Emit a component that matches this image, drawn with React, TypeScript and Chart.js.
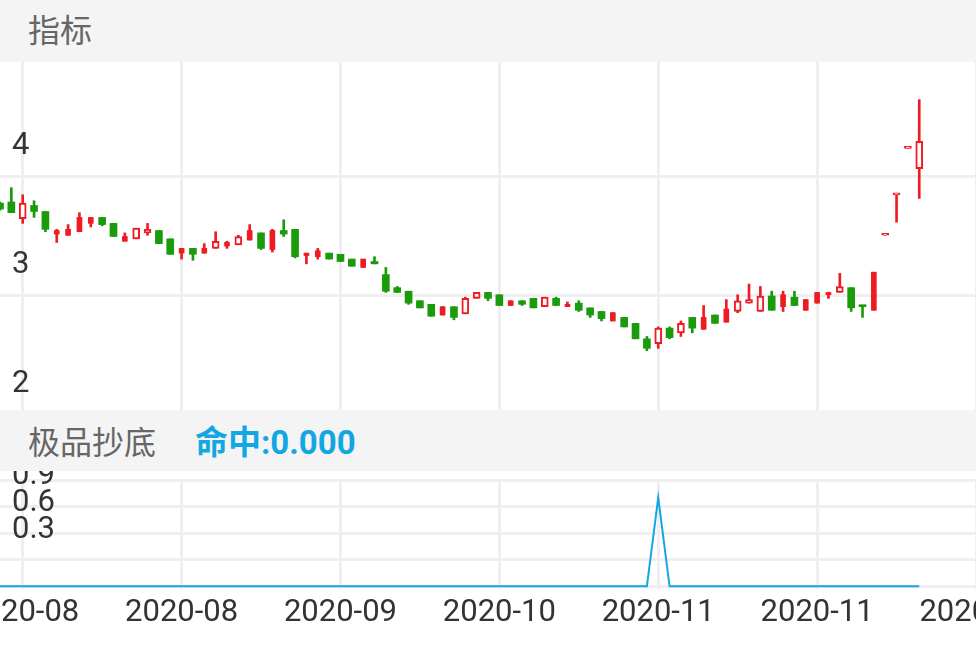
import React, { useEffect, useRef } from 'react';
import { Chart, registerables } from 'chart.js';

Chart.register(...registerables);

// ---- data ----
const opens = [3.78, 3.79, 3.65, 3.76, 3.71, 3.52, 3.51, 3.54, 3.61, 3.66, 3.61, 3.46, 3.48, 3.53, 3.55, 3.48, 3.36, 3.40, 3.36, 3.40, 3.42, 3.43, 3.47, 3.53, 3.39, 3.55, 3.56, 3.34, 3.33, 3.36, 3.35, 3.31, 3.24, 3.29, 3.18, 3.07, 3.04, 2.96, 2.93, 2.84, 2.91, 2.85, 2.98, 3.03, 3.01, 2.92, 2.96, 2.98, 2.91, 2.98, 2.91, 2.94, 2.90, 2.87, 2.79, 2.82, 2.77, 2.64, 2.60, 2.73, 2.69, 2.82, 2.72, 2.84, 2.78, 2.87, 2.94, 2.87, 3.00, 2.91, 2.99, 2.88, 2.94, 3.01, 3.03, 3.07, 2.92, 2.88, 3.51, 3.85, 4.24, 4.07];
const highs = [3.79, 3.91, 3.85, 3.80, 3.71, 3.56, 3.60, 3.70, 3.66, 3.66, 3.61, 3.53, 3.57, 3.61, 3.55, 3.48, 3.40, 3.40, 3.44, 3.54, 3.46, 3.51, 3.60, 3.53, 3.56, 3.64, 3.56, 3.36, 3.40, 3.36, 3.35, 3.31, 3.31, 3.33, 3.24, 3.08, 3.04, 2.96, 2.93, 2.91, 2.91, 2.99, 3.03, 3.03, 3.01, 2.96, 2.96, 2.98, 2.99, 2.99, 2.95, 2.96, 2.90, 2.87, 2.86, 2.82, 2.77, 2.66, 2.74, 2.74, 2.79, 2.82, 2.92, 2.84, 2.97, 3.01, 3.10, 3.08, 3.04, 3.04, 3.04, 2.97, 3.03, 3.03, 3.19, 3.07, 2.92, 3.20, 3.51, 3.86, 4.24, 4.65];
const lows = [3.72, 3.70, 3.61, 3.66, 3.54, 3.45, 3.51, 3.54, 3.58, 3.59, 3.50, 3.46, 3.48, 3.51, 3.44, 3.35, 3.31, 3.30, 3.36, 3.40, 3.40, 3.43, 3.47, 3.39, 3.37, 3.50, 3.32, 3.27, 3.31, 3.31, 3.29, 3.25, 3.24, 3.27, 3.03, 3.03, 2.93, 2.90, 2.83, 2.84, 2.80, 2.85, 2.98, 2.96, 2.92, 2.92, 2.92, 2.90, 2.91, 2.92, 2.91, 2.87, 2.82, 2.79, 2.79, 2.74, 2.64, 2.54, 2.56, 2.64, 2.66, 2.69, 2.72, 2.77, 2.78, 2.86, 2.94, 2.87, 2.88, 2.87, 2.92, 2.88, 2.94, 2.98, 3.03, 2.87, 2.82, 2.88, 3.51, 3.62, 4.24, 3.82];
const closes = [3.73, 3.70, 3.78, 3.71, 3.56, 3.55, 3.56, 3.66, 3.66, 3.60, 3.50, 3.50, 3.57, 3.56, 3.44, 3.35, 3.40, 3.35, 3.40, 3.46, 3.45, 3.50, 3.55, 3.40, 3.55, 3.52, 3.33, 3.36, 3.38, 3.31, 3.29, 3.25, 3.31, 3.27, 3.04, 3.03, 2.94, 2.90, 2.83, 2.91, 2.82, 2.98, 3.03, 2.98, 2.92, 2.96, 2.93, 2.90, 2.99, 2.92, 2.93, 2.88, 2.84, 2.81, 2.86, 2.74, 2.64, 2.56, 2.73, 2.65, 2.77, 2.73, 2.82, 2.77, 2.89, 2.96, 2.97, 3.00, 2.88, 3.01, 2.92, 2.97, 3.03, 3.03, 3.08, 2.90, 2.91, 3.20, 3.51, 3.86, 4.24, 4.30];
// rising candles that the reference shows as solid (filled) bodies
const filledUp = [5, 6, 7, 8, 11, 16, 18, 20, 22, 24, 27, 28, 32, 39, 45, 50, 54, 62, 64, 69, 71, 72, 73, 77];
const hits = [0, 0, 0, 0, 0, 0, 0, 0, 0, 0, 0, 0, 0, 0, 0, 0, 0, 0, 0, 0, 0, 0, 0, 0, 0, 0, 0, 0, 0, 0, 0, 0, 0, 0, 0, 0, 0, 0, 0, 0, 0, 0, 0, 0, 0, 0, 0, 0, 0, 0, 0, 0, 0, 0, 0, 0, 0, 0, 1, 0, 0, 0, 0, 0, 0, 0, 0, 0, 0, 0, 0, 0, 0, 0, 0, 0, 0, 0, 0, 0, 0, 0];
const xTickValues = [2, 16, 30, 44, 58, 72, 86];
const xTickLabels = ['2020-08', '2020-08', '2020-09', '2020-10', '2020-11', '2020-11', '2020-12'];
const priceTicks = [2, 3, 4];
const hitTicks = [0, 0.3, 0.6, 0.9, 1.2];
const hitLabels = ['', '0.3', '0.6', '0.9', '1.2'];

const RED = '#ef1b22';
const GREEN = '#1a9b0c';
const GRID = '#efeff1';
const BLUE = '#12a7e2';
const TICK_COLOR = '#333333';
const TICK_FONT = { family: 'Roboto', size: 31 };

function zeroPad(s: any) {
  s.paddingTop = 0;
  s.paddingBottom = 0;
  s.paddingLeft = 0;
  s.paddingRight = 0;
}

function xScale(showTicks: boolean) {
  return {
    type: 'linear',
    min: 0,
    max: 86,
    offset: false,
    afterBuildTicks: (s: any) => {
      s.ticks = xTickValues.map((v) => ({ value: v }));
    },
    afterFit: (s: any) => {
      zeroPad(s);
      if (showTicks) s.height = 60;
    },
    grid: { color: GRID, lineWidth: 3, drawTicks: false, offset: false },
    border: { display: false },
    ticks: {
      display: showTicks,
      autoSkip: false,
      maxRotation: 0,
      minRotation: 0,
      padding: 6,
      color: TICK_COLOR,
      font: TICK_FONT,
      callback: (_v: any, i: number) => xTickLabels[i],
    },
  };
}

export default function App() {
  const mainRef = useRef<HTMLCanvasElement>(null);
  const subRef = useRef<HTMLCanvasElement>(null);

  useEffect(() => {
    const idx = closes.map((_, i) => i);
    const rising = idx.map((i) => closes[i] >= opens[i]);
    const colorOf = (i: number) => (rising[i] ? RED : GREEN);
    const hollowIdx = idx.filter((i) => rising[i] && !filledUp.includes(i));
    const solidIdx = idx.filter((i) => rising[i] && filledUp.includes(i));
    const downIdx = idx.filter((i) => !rising[i]);
    const body = (list: number[]) => list.map((i) => ({ x: i, y: [opens[i], closes[i]] }));

    const main = new Chart(mainRef.current as HTMLCanvasElement, {
      type: 'bar',
      data: {
        datasets: [
          {
            label: 'up-hollow',
            data: body(hollowIdx) as any,
            backgroundColor: '#ffffff',
            borderColor: RED,
            borderWidth: 2,
            borderSkipped: false,
            barThickness: 7,
            minBarLength: 2,
            grouped: false,
          } as any,
          {
            label: 'up-solid',
            data: body(solidIdx) as any,
            backgroundColor: RED,
            borderWidth: 0,
            barThickness: 5,
            minBarLength: 2,
            grouped: false,
          } as any,
          {
            label: 'down',
            data: body(downIdx) as any,
            backgroundColor: GREEN,
            borderWidth: 0,
            barThickness: 7,
            minBarLength: 2,
            grouped: false,
          } as any,
          {
            label: 'wick',
            data: idx.map((i) => ({ x: i, y: [lows[i], highs[i]] })) as any,
            backgroundColor: idx.map(colorOf),
            borderWidth: 0,
            barThickness: 2,
            grouped: false,
          } as any,
        ],
      },
      options: {
        responsive: false,
        maintainAspectRatio: false,
        animation: false,
        events: [],
        layout: { padding: 0 },
        plugins: { legend: { display: false }, tooltip: { enabled: false } },
        scales: {
          x: xScale(false) as any,
          y: {
            type: 'linear',
            position: 'left',
            min: 2,
            max: 4.966,
            afterBuildTicks: (s: any) => {
              s.ticks = priceTicks.map((v) => ({ value: v }));
            },
            afterFit: (s: any) => {
              s.width = 0;
              zeroPad(s);
            },
            grid: { color: GRID, lineWidth: 3, drawTicks: false },
            border: { display: false },
            ticks: {
              mirror: true,
              padding: 12,
              labelOffset: -31,
              autoSkip: false,
              color: TICK_COLOR,
              font: TICK_FONT,
              callback: (v: any) => String(v),
            },
          } as any,
        },
      },
    });

    const sub = new Chart(subRef.current as HTMLCanvasElement, {
      type: 'line',
      data: {
        datasets: [
          {
            label: 'hit',
            data: idx.map((i) => ({ x: i, y: hits[i] })) as any,
            borderColor: BLUE,
            borderWidth: 2,
            pointRadius: 0,
            tension: 0,
            fill: false,
          },
        ],
      },
      options: {
        responsive: false,
        maintainAspectRatio: false,
        animation: false,
        events: [],
        layout: { padding: { top: 9, left: 0, right: 0, bottom: 0 } },
        plugins: { legend: { display: false }, tooltip: { enabled: false } },
        scales: {
          x: xScale(true) as any,
          y: {
            type: 'linear',
            position: 'left',
            min: -0.03,
            max: 1.2,
            afterBuildTicks: (s: any) => {
              s.ticks = hitTicks.map((v) => ({ value: v }));
            },
            afterFit: (s: any) => {
              s.width = 0;
              zeroPad(s);
            },
            grid: { color: GRID, lineWidth: 3, drawTicks: false },
            border: { display: false },
            ticks: {
              mirror: true,
              padding: 12,
              labelOffset: -30,
              autoSkip: false,
              color: TICK_COLOR,
              font: TICK_FONT,
              callback: (_v: any, i: number) => hitLabels[i],
            },
          } as any,
        },
      },
    });

    return () => {
      main.destroy();
      sub.destroy();
    };
  }, []);

  const band: React.CSSProperties = {
    position: 'absolute',
    left: 0,
    width: 976,
    background: '#f4f4f4',
    display: 'flex',
    alignItems: 'center',
    boxSizing: 'border-box',
    paddingLeft: 28,
    fontFamily: "'Noto Sans CJK SC', sans-serif",
    fontSize: 32,
    color: '#666666',
    whiteSpace: 'nowrap',
  };

  return (
    <div style={{ position: 'fixed', left: 0, top: 0, width: 976, height: 649, overflow: 'hidden', background: '#ffffff' }}>
      <canvas ref={mainRef} width={976} height={353} style={{ position: 'absolute', left: 0, top: 62, width: 976, height: 353 }} />
      <canvas ref={subRef} width={976} height={178} style={{ position: 'absolute', left: 0, top: 471, width: 976, height: 178 }} />
      <div style={{ ...band, top: 0, height: 62, paddingBottom: 6 }}>指标</div>
      <div style={{ ...band, top: 410, height: 61, paddingBottom: 2 }}>
        <span>极品抄底</span>
        <span style={{ marginLeft: 39, color: BLUE, fontWeight: 'bold', fontSize: 33, fontFamily: "Roboto, 'Noto Sans CJK SC', sans-serif" }}>命中:0.000</span>
      </div>
    </div>
  );
}
